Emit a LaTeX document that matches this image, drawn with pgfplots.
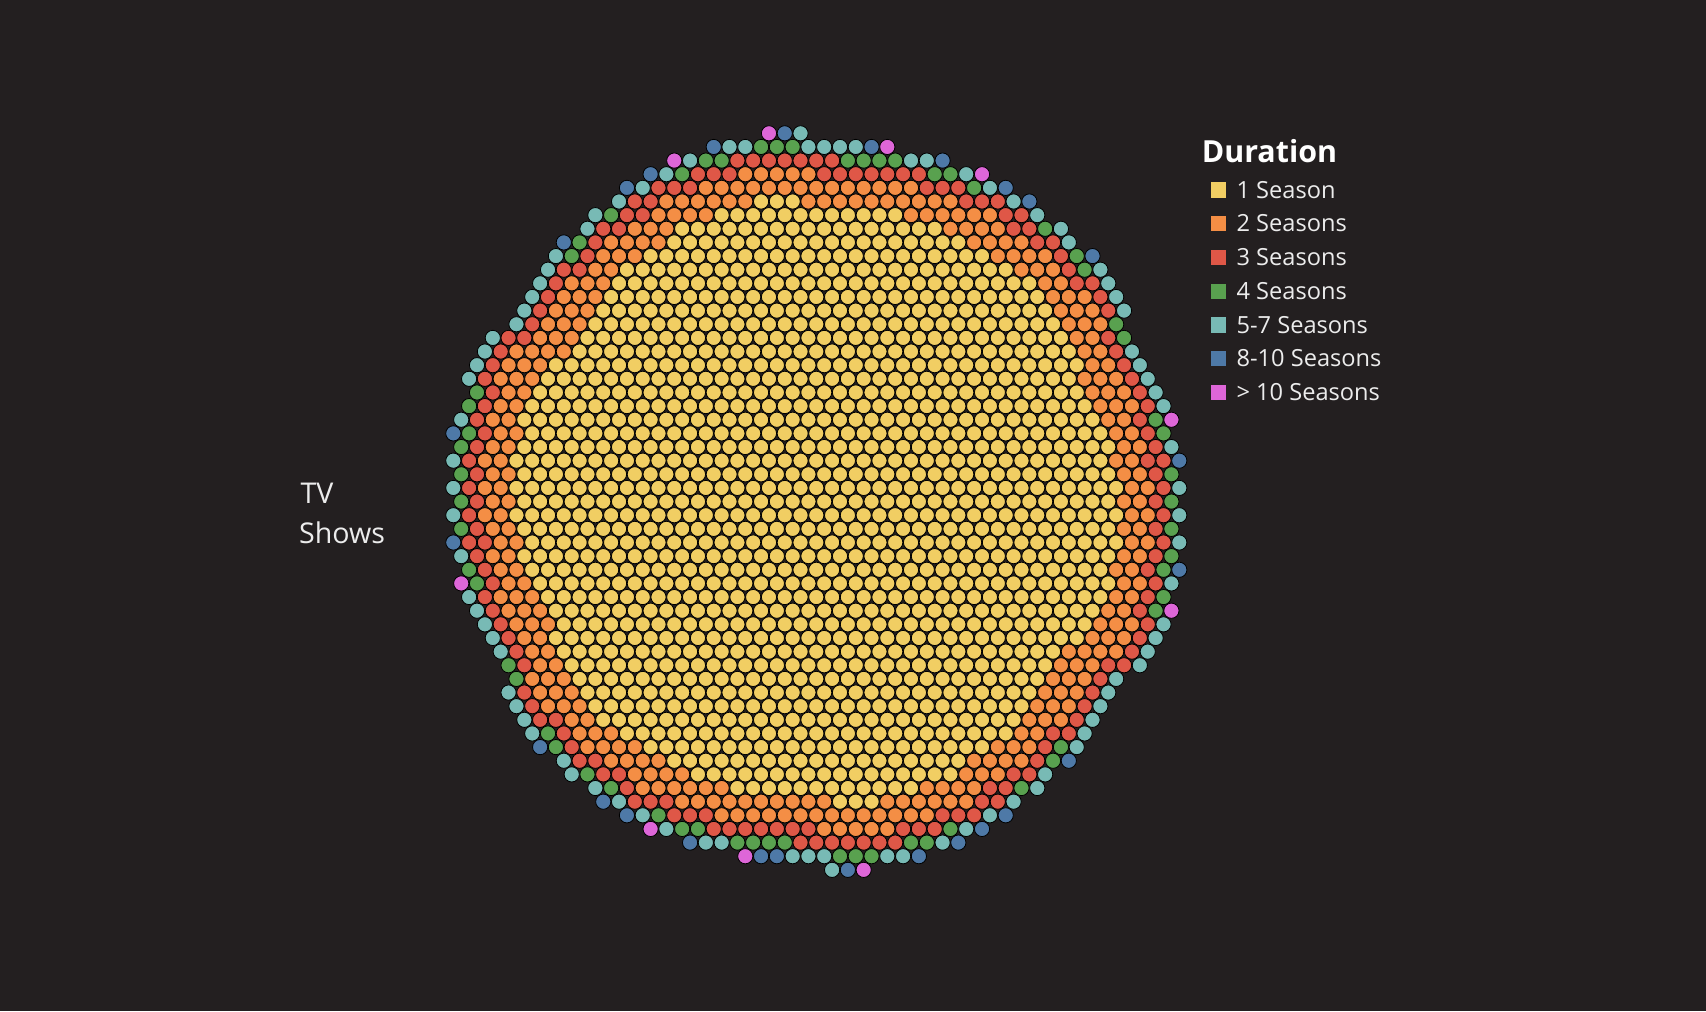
\documentclass[border=0pt]{standalone}
\usepackage{fontspec}
\setmainfont{Open Sans}
\usepackage{pgfplots}
\pgfplotsset{compat=1.18}
\definecolor{bg}{RGB}{35,31,32}
\definecolor{cY}{HTML}{F1CE63}
\definecolor{cO}{HTML}{F48E45}
\definecolor{cR}{HTML}{DF5747}
\definecolor{cG}{HTML}{59A14F}
\definecolor{cT}{HTML}{78BAB5}
\definecolor{cB}{HTML}{4E79A7}
\definecolor{cP}{HTML}{DE66D8}
\definecolor{lgtext}{RGB}{236,236,236}
\pgfplotsset{dot/.style={only marks, mark=*, mark size=3.8pt, mark options={draw=none, fill=#1},
  legend image code/.code={\fill[#1] (0pt,-3.575pt) rectangle (7.15pt,3.575pt);}}}
\begin{document}
\begin{tikzpicture}
\fill[bg] (0,0) rectangle (853pt,505.5pt);
\begin{axis}[at={(0,0)}, anchor=south west, scale only axis, width=853pt, height=505.5pt,
  xmin=-57.45, xmax=158.75, ymin=-9.773, ymax=64.348, y dir=reverse, hide axis, clip=false,
  legend cell align=left,
  legend style={at={(0.70967,0.82028)}, anchor=north west, draw=none, fill=none, inner sep=0pt, outer sep=0pt,
    row sep=8.55pt, font=\fontsize{11.8}{13}\selectfont, text=lgtext,
    nodes={inner sep=0pt, text height=8.3pt, text depth=0pt},
    /tikz/every odd column/.append style={column sep=5.4pt}}]
% 1 Season
\addplot[dot=cY] coordinates {
(39,5) (41,5) (43,5)
(34,6) (36,6) (38,6) (40,6) (42,6) (44,6) (46,6) (48,6) (50,6) (52,6) (54,6) (56,6)
(29,7) (31,7) (33,7) (35,7) (37,7) (39,7) (41,7) (43,7) (45,7) (47,7) (49,7) (51,7) (53,7) (55,7) (57,7) (59,7) (61,7)
(28,8) (30,8) (32,8) (34,8) (36,8) (38,8) (40,8) (42,8) (44,8) (46,8) (48,8) (50,8) (52,8) (54,8) (56,8) (58,8) (60,8) (62,8) (64,8)
(25,9) (27,9) (29,9) (31,9) (33,9) (35,9) (37,9) (39,9) (41,9) (43,9) (45,9) (47,9) (49,9) (51,9) (53,9) (55,9) (57,9) (59,9) (61,9) (63,9) (65,9) (67,9)
(22,10) (24,10) (26,10) (28,10) (30,10) (32,10) (34,10) (36,10) (38,10) (40,10) (42,10) (44,10) (46,10) (48,10) (50,10) (52,10) (54,10) (56,10) (58,10) (60,10) (62,10) (64,10) (66,10) (68,10) (70,10)
(21,11) (23,11) (25,11) (27,11) (29,11) (31,11) (33,11) (35,11) (37,11) (39,11) (41,11) (43,11) (45,11) (47,11) (49,11) (51,11) (53,11) (55,11) (57,11) (59,11) (61,11) (63,11) (65,11) (67,11) (69,11) (71,11) (73,11)
(20,12) (22,12) (24,12) (26,12) (28,12) (30,12) (32,12) (34,12) (36,12) (38,12) (40,12) (42,12) (44,12) (46,12) (48,12) (50,12) (52,12) (54,12) (56,12) (58,12) (60,12) (62,12) (64,12) (66,12) (68,12) (70,12) (72,12) (74,12)
(19,13) (21,13) (23,13) (25,13) (27,13) (29,13) (31,13) (33,13) (35,13) (37,13) (39,13) (41,13) (43,13) (45,13) (47,13) (49,13) (51,13) (53,13) (55,13) (57,13) (59,13) (61,13) (63,13) (65,13) (67,13) (69,13) (71,13) (73,13) (75,13)
(18,14) (20,14) (22,14) (24,14) (26,14) (28,14) (30,14) (32,14) (34,14) (36,14) (38,14) (40,14) (42,14) (44,14) (46,14) (48,14) (50,14) (52,14) (54,14) (56,14) (58,14) (60,14) (62,14) (64,14) (66,14) (68,14) (70,14) (72,14) (74,14) (76,14)
(17,15) (19,15) (21,15) (23,15) (25,15) (27,15) (29,15) (31,15) (33,15) (35,15) (37,15) (39,15) (41,15) (43,15) (45,15) (47,15) (49,15) (51,15) (53,15) (55,15) (57,15) (59,15) (61,15) (63,15) (65,15) (67,15) (69,15) (71,15) (73,15) (75,15) (77,15)
(16,16) (18,16) (20,16) (22,16) (24,16) (26,16) (28,16) (30,16) (32,16) (34,16) (36,16) (38,16) (40,16) (42,16) (44,16) (46,16) (48,16) (50,16) (52,16) (54,16) (56,16) (58,16) (60,16) (62,16) (64,16) (66,16) (68,16) (70,16) (72,16) (74,16) (76,16) (78,16)
(13,17) (15,17) (17,17) (19,17) (21,17) (23,17) (25,17) (27,17) (29,17) (31,17) (33,17) (35,17) (37,17) (39,17) (41,17) (43,17) (45,17) (47,17) (49,17) (51,17) (53,17) (55,17) (57,17) (59,17) (61,17) (63,17) (65,17) (67,17) (69,17) (71,17) (73,17) (75,17) (77,17) (79,17)
(12,18) (14,18) (16,18) (18,18) (20,18) (22,18) (24,18) (26,18) (28,18) (30,18) (32,18) (34,18) (36,18) (38,18) (40,18) (42,18) (44,18) (46,18) (48,18) (50,18) (52,18) (54,18) (56,18) (58,18) (60,18) (62,18) (64,18) (66,18) (68,18) (70,18) (72,18) (74,18) (76,18) (78,18)
(11,19) (13,19) (15,19) (17,19) (19,19) (21,19) (23,19) (25,19) (27,19) (29,19) (31,19) (33,19) (35,19) (37,19) (39,19) (41,19) (43,19) (45,19) (47,19) (49,19) (51,19) (53,19) (55,19) (57,19) (59,19) (61,19) (63,19) (65,19) (67,19) (69,19) (71,19) (73,19) (75,19) (77,19) (79,19)
(10,20) (12,20) (14,20) (16,20) (18,20) (20,20) (22,20) (24,20) (26,20) (28,20) (30,20) (32,20) (34,20) (36,20) (38,20) (40,20) (42,20) (44,20) (46,20) (48,20) (50,20) (52,20) (54,20) (56,20) (58,20) (60,20) (62,20) (64,20) (66,20) (68,20) (70,20) (72,20) (74,20) (76,20) (78,20) (80,20)
(9,21) (11,21) (13,21) (15,21) (17,21) (19,21) (21,21) (23,21) (25,21) (27,21) (29,21) (31,21) (33,21) (35,21) (37,21) (39,21) (41,21) (43,21) (45,21) (47,21) (49,21) (51,21) (53,21) (55,21) (57,21) (59,21) (61,21) (63,21) (65,21) (67,21) (69,21) (71,21) (73,21) (75,21) (77,21) (79,21) (81,21)
(10,22) (12,22) (14,22) (16,22) (18,22) (20,22) (22,22) (24,22) (26,22) (28,22) (30,22) (32,22) (34,22) (36,22) (38,22) (40,22) (42,22) (44,22) (46,22) (48,22) (50,22) (52,22) (54,22) (56,22) (58,22) (60,22) (62,22) (64,22) (66,22) (68,22) (70,22) (72,22) (74,22) (76,22) (78,22) (80,22) (82,22)
(9,23) (11,23) (13,23) (15,23) (17,23) (19,23) (21,23) (23,23) (25,23) (27,23) (29,23) (31,23) (33,23) (35,23) (37,23) (39,23) (41,23) (43,23) (45,23) (47,23) (49,23) (51,23) (53,23) (55,23) (57,23) (59,23) (61,23) (63,23) (65,23) (67,23) (69,23) (71,23) (73,23) (75,23) (77,23) (79,23) (81,23) (83,23)
(8,24) (10,24) (12,24) (14,24) (16,24) (18,24) (20,24) (22,24) (24,24) (26,24) (28,24) (30,24) (32,24) (34,24) (36,24) (38,24) (40,24) (42,24) (44,24) (46,24) (48,24) (50,24) (52,24) (54,24) (56,24) (58,24) (60,24) (62,24) (64,24) (66,24) (68,24) (70,24) (72,24) (74,24) (76,24) (78,24) (80,24) (82,24)
(9,25) (11,25) (13,25) (15,25) (17,25) (19,25) (21,25) (23,25) (25,25) (27,25) (29,25) (31,25) (33,25) (35,25) (37,25) (39,25) (41,25) (43,25) (45,25) (47,25) (49,25) (51,25) (53,25) (55,25) (57,25) (59,25) (61,25) (63,25) (65,25) (67,25) (69,25) (71,25) (73,25) (75,25) (77,25) (79,25) (81,25) (83,25)
(8,26) (10,26) (12,26) (14,26) (16,26) (18,26) (20,26) (22,26) (24,26) (26,26) (28,26) (30,26) (32,26) (34,26) (36,26) (38,26) (40,26) (42,26) (44,26) (46,26) (48,26) (50,26) (52,26) (54,26) (56,26) (58,26) (60,26) (62,26) (64,26) (66,26) (68,26) (70,26) (72,26) (74,26) (76,26) (78,26) (80,26) (82,26) (84,26)
(9,27) (11,27) (13,27) (15,27) (17,27) (19,27) (21,27) (23,27) (25,27) (27,27) (29,27) (31,27) (33,27) (35,27) (37,27) (39,27) (41,27) (43,27) (45,27) (47,27) (49,27) (51,27) (53,27) (55,27) (57,27) (59,27) (61,27) (63,27) (65,27) (67,27) (69,27) (71,27) (73,27) (75,27) (77,27) (79,27) (81,27) (83,27)
(8,28) (10,28) (12,28) (14,28) (16,28) (18,28) (20,28) (22,28) (24,28) (26,28) (28,28) (30,28) (32,28) (34,28) (36,28) (38,28) (40,28) (42,28) (44,28) (46,28) (48,28) (50,28) (52,28) (54,28) (56,28) (58,28) (60,28) (62,28) (64,28) (66,28) (68,28) (70,28) (72,28) (74,28) (76,28) (78,28) (80,28) (82,28) (84,28)
(9,29) (11,29) (13,29) (15,29) (17,29) (19,29) (21,29) (23,29) (25,29) (27,29) (29,29) (31,29) (33,29) (35,29) (37,29) (39,29) (41,29) (43,29) (45,29) (47,29) (49,29) (51,29) (53,29) (55,29) (57,29) (59,29) (61,29) (63,29) (65,29) (67,29) (69,29) (71,29) (73,29) (75,29) (77,29) (79,29) (81,29) (83,29)
(10,30) (12,30) (14,30) (16,30) (18,30) (20,30) (22,30) (24,30) (26,30) (28,30) (30,30) (32,30) (34,30) (36,30) (38,30) (40,30) (42,30) (44,30) (46,30) (48,30) (50,30) (52,30) (54,30) (56,30) (58,30) (60,30) (62,30) (64,30) (66,30) (68,30) (70,30) (72,30) (74,30) (76,30) (78,30) (80,30) (82,30) (84,30)
(9,31) (11,31) (13,31) (15,31) (17,31) (19,31) (21,31) (23,31) (25,31) (27,31) (29,31) (31,31) (33,31) (35,31) (37,31) (39,31) (41,31) (43,31) (45,31) (47,31) (49,31) (51,31) (53,31) (55,31) (57,31) (59,31) (61,31) (63,31) (65,31) (67,31) (69,31) (71,31) (73,31) (75,31) (77,31) (79,31) (81,31) (83,31)
(10,32) (12,32) (14,32) (16,32) (18,32) (20,32) (22,32) (24,32) (26,32) (28,32) (30,32) (32,32) (34,32) (36,32) (38,32) (40,32) (42,32) (44,32) (46,32) (48,32) (50,32) (52,32) (54,32) (56,32) (58,32) (60,32) (62,32) (64,32) (66,32) (68,32) (70,32) (72,32) (74,32) (76,32) (78,32) (80,32) (82,32)
(11,33) (13,33) (15,33) (17,33) (19,33) (21,33) (23,33) (25,33) (27,33) (29,33) (31,33) (33,33) (35,33) (37,33) (39,33) (41,33) (43,33) (45,33) (47,33) (49,33) (51,33) (53,33) (55,33) (57,33) (59,33) (61,33) (63,33) (65,33) (67,33) (69,33) (71,33) (73,33) (75,33) (77,33) (79,33) (81,33) (83,33)
(12,34) (14,34) (16,34) (18,34) (20,34) (22,34) (24,34) (26,34) (28,34) (30,34) (32,34) (34,34) (36,34) (38,34) (40,34) (42,34) (44,34) (46,34) (48,34) (50,34) (52,34) (54,34) (56,34) (58,34) (60,34) (62,34) (64,34) (66,34) (68,34) (70,34) (72,34) (74,34) (76,34) (78,34) (80,34) (82,34)
(13,35) (15,35) (17,35) (19,35) (21,35) (23,35) (25,35) (27,35) (29,35) (31,35) (33,35) (35,35) (37,35) (39,35) (41,35) (43,35) (45,35) (47,35) (49,35) (51,35) (53,35) (55,35) (57,35) (59,35) (61,35) (63,35) (65,35) (67,35) (69,35) (71,35) (73,35) (75,35) (77,35) (79,35) (81,35)
(14,36) (16,36) (18,36) (20,36) (22,36) (24,36) (26,36) (28,36) (30,36) (32,36) (34,36) (36,36) (38,36) (40,36) (42,36) (44,36) (46,36) (48,36) (50,36) (52,36) (54,36) (56,36) (58,36) (60,36) (62,36) (64,36) (66,36) (68,36) (70,36) (72,36) (74,36) (76,36) (78,36) (80,36)
(13,37) (15,37) (17,37) (19,37) (21,37) (23,37) (25,37) (27,37) (29,37) (31,37) (33,37) (35,37) (37,37) (39,37) (41,37) (43,37) (45,37) (47,37) (49,37) (51,37) (53,37) (55,37) (57,37) (59,37) (61,37) (63,37) (65,37) (67,37) (69,37) (71,37) (73,37) (75,37) (77,37) (79,37)
(14,38) (16,38) (18,38) (20,38) (22,38) (24,38) (26,38) (28,38) (30,38) (32,38) (34,38) (36,38) (38,38) (40,38) (42,38) (44,38) (46,38) (48,38) (50,38) (52,38) (54,38) (56,38) (58,38) (60,38) (62,38) (64,38) (66,38) (68,38) (70,38) (72,38) (74,38) (76,38)
(15,39) (17,39) (19,39) (21,39) (23,39) (25,39) (27,39) (29,39) (31,39) (33,39) (35,39) (37,39) (39,39) (41,39) (43,39) (45,39) (47,39) (49,39) (51,39) (53,39) (55,39) (57,39) (59,39) (61,39) (63,39) (65,39) (67,39) (69,39) (71,39) (73,39) (75,39)
(16,40) (18,40) (20,40) (22,40) (24,40) (26,40) (28,40) (30,40) (32,40) (34,40) (36,40) (38,40) (40,40) (42,40) (44,40) (46,40) (48,40) (50,40) (52,40) (54,40) (56,40) (58,40) (60,40) (62,40) (64,40) (66,40) (68,40) (70,40) (72,40) (74,40)
(17,41) (19,41) (21,41) (23,41) (25,41) (27,41) (29,41) (31,41) (33,41) (35,41) (37,41) (39,41) (41,41) (43,41) (45,41) (47,41) (49,41) (51,41) (53,41) (55,41) (57,41) (59,41) (61,41) (63,41) (65,41) (67,41) (69,41) (71,41) (73,41)
(18,42) (20,42) (22,42) (24,42) (26,42) (28,42) (30,42) (32,42) (34,42) (36,42) (38,42) (40,42) (42,42) (44,42) (46,42) (48,42) (50,42) (52,42) (54,42) (56,42) (58,42) (60,42) (62,42) (64,42) (66,42) (68,42) (70,42) (72,42)
(19,43) (21,43) (23,43) (25,43) (27,43) (29,43) (31,43) (33,43) (35,43) (37,43) (39,43) (41,43) (43,43) (45,43) (47,43) (49,43) (51,43) (53,43) (55,43) (57,43) (59,43) (61,43) (63,43) (65,43) (67,43) (69,43) (71,43)
(22,44) (24,44) (26,44) (28,44) (30,44) (32,44) (34,44) (36,44) (38,44) (40,44) (42,44) (44,44) (46,44) (48,44) (50,44) (52,44) (54,44) (56,44) (58,44) (60,44) (62,44) (64,44) (66,44) (68,44) (70,44)
(25,45) (27,45) (29,45) (31,45) (33,45) (35,45) (37,45) (39,45) (41,45) (43,45) (45,45) (47,45) (49,45) (51,45) (53,45) (55,45) (57,45) (59,45) (61,45) (63,45) (65,45) (67,45)
(28,46) (30,46) (32,46) (34,46) (36,46) (38,46) (40,46) (42,46) (44,46) (46,46) (48,46) (50,46) (52,46) (54,46) (56,46) (58,46) (60,46) (62,46) (64,46)
(31,47) (33,47) (35,47) (37,47) (39,47) (41,47) (43,47) (45,47) (47,47) (49,47) (51,47) (53,47) (55,47) (57,47) (59,47) (61,47) (63,47)
(36,48) (38,48) (40,48) (42,48) (44,48) (46,48) (48,48) (50,48) (52,48) (54,48) (56,48) (58,48)
(49,49) (51,49) (53,49)
};
\addlegendentry{1 Season}
% 2 Seasons
\addplot[dot=cO] coordinates {
(37,3) (39,3) (41,3) (43,3) (45,3)
(32,4) (34,4) (36,4) (38,4) (40,4) (42,4) (44,4) (46,4) (48,4) (50,4) (52,4) (54,4) (56,4) (58,4)
(27,5) (29,5) (31,5) (33,5) (35,5) (37,5) (45,5) (47,5) (49,5) (51,5) (53,5) (55,5) (57,5) (59,5) (61,5) (63,5)
(26,6) (28,6) (30,6) (32,6) (58,6) (60,6) (62,6) (64,6) (66,6) (68,6)
(23,7) (25,7) (27,7) (63,7) (65,7) (67,7) (69,7)
(20,8) (22,8) (24,8) (26,8) (66,8) (68,8) (70,8) (72,8)
(19,9) (21,9) (23,9) (69,9) (71,9) (73,9) (75,9)
(18,10) (20,10) (72,10) (74,10) (76,10)
(15,11) (17,11) (19,11) (75,11) (77,11)
(14,12) (16,12) (18,12) (76,12) (78,12) (80,12)
(13,13) (15,13) (17,13) (77,13) (79,13) (81,13)
(12,14) (14,14) (16,14) (78,14) (80,14) (82,14)
(11,15) (13,15) (15,15) (79,15) (81,15)
(8,16) (10,16) (12,16) (14,16) (80,16) (82,16)
(7,17) (9,17) (11,17) (81,17) (83,17)
(6,18) (8,18) (10,18) (80,18) (82,18) (84,18)
(7,19) (9,19) (81,19) (83,19) (85,19)
(6,20) (8,20) (82,20) (84,20) (86,20)
(5,21) (7,21) (83,21) (85,21)
(6,22) (8,22) (84,22) (86,22)
(5,23) (7,23) (85,23) (87,23)
(4,24) (6,24) (84,24) (86,24)
(5,25) (7,25) (85,25) (87,25)
(4,26) (6,26) (86,26) (88,26)
(5,27) (7,27) (85,27) (87,27)
(4,28) (6,28) (86,28) (88,28)
(5,29) (7,29) (85,29) (87,29)
(6,30) (8,30) (86,30) (88,30)
(5,31) (7,31) (85,31) (87,31)
(6,32) (8,32) (84,32) (86,32)
(7,33) (9,33) (85,33) (87,33)
(6,34) (8,34) (10,34) (84,34) (86,34)
(7,35) (9,35) (11,35) (83,35) (85,35)
(8,36) (10,36) (12,36) (82,36) (84,36) (86,36)
(9,37) (11,37) (81,37) (83,37) (85,37)
(10,38) (12,38) (78,38) (80,38) (82,38) (84,38)
(11,39) (13,39) (77,39) (79,39) (81,39)
(10,40) (12,40) (14,40) (76,40) (78,40) (80,40)
(11,41) (13,41) (15,41) (75,41) (77,41) (79,41)
(12,42) (14,42) (16,42) (74,42) (76,42) (78,42)
(15,43) (17,43) (73,43) (75,43) (77,43)
(16,44) (18,44) (20,44) (72,44) (74,44)
(17,45) (19,45) (21,45) (23,45) (69,45) (71,45) (73,45)
(20,46) (22,46) (24,46) (26,46) (66,46) (68,46) (70,46) (72,46)
(23,47) (25,47) (27,47) (29,47) (65,47) (67,47) (69,47)
(24,48) (26,48) (28,48) (30,48) (32,48) (34,48) (60,48) (62,48) (64,48) (66,48)
(29,49) (31,49) (33,49) (35,49) (37,49) (39,49) (41,49) (43,49) (45,49) (47,49) (55,49) (57,49) (59,49) (61,49) (63,49) (65,49)
(34,50) (36,50) (38,50) (40,50) (42,50) (44,50) (46,50) (48,50) (50,50) (52,50) (54,50) (56,50) (58,50) (60,50)
(47,51) (49,51) (51,51) (53,51) (55,51)
};
\addlegendentry{2 Seasons}
% 3 Seasons
\addplot[dot=cR] coordinates {
(36,2) (38,2) (40,2) (42,2) (44,2) (46,2) (48,2)
(31,3) (33,3) (35,3) (47,3) (49,3) (51,3) (53,3) (55,3) (57,3) (59,3)
(26,4) (28,4) (30,4) (60,4) (62,4) (64,4)
(23,5) (25,5) (65,5) (67,5) (69,5)
(22,6) (24,6) (70,6) (72,6)
(19,7) (21,7) (71,7) (73,7)
(18,8) (74,8) (76,8)
(17,9) (77,9)
(14,10) (16,10) (78,10)
(13,11) (79,11) (81,11)
(12,12) (82,12)
(11,13) (83,13)
(10,14)
(7,15) (9,15) (83,15)
(6,16) (84,16)
(5,17) (85,17)
(4,18) (86,18)
(5,19) (87,19)
(4,20) (88,20)
(3,21) (87,21)
(4,22) (88,22)
(3,23) (89,23)
(2,24) (88,24) (90,24)
(3,25) (89,25)
(2,26) (90,26)
(3,27) (89,27)
(2,28) (90,28)
(3,29) (89,29)
(2,30) (4,30) (90,30)
(3,31) (89,31)
(4,32) (88,32)
(5,33) (89,33)
(4,34) (88,34)
(5,35) (87,35)
(6,36) (88,36)
(7,37) (87,37)
(8,38) (86,38)
(9,39) (83,39) (85,39)
(82,40)
(9,41) (81,41)
(10,42) (80,42)
(11,43) (13,43) (79,43)
(14,44) (76,44) (78,44)
(15,45) (75,45)
(16,46) (18,46) (74,46)
(19,47) (21,47) (71,47) (73,47)
(22,48) (68,48) (70,48)
(23,49) (25,49) (27,49) (67,49) (69,49)
(28,50) (30,50) (32,50) (62,50) (64,50) (66,50)
(33,51) (35,51) (37,51) (39,51) (41,51) (43,51) (45,51) (57,51) (59,51) (61,51)
(44,52) (46,52) (48,52) (50,52) (52,52) (54,52) (56,52)
};
\addlegendentry{3 Seasons}
% 4 Seasons
\addplot[dot=cG] coordinates {
(39,1) (41,1) (43,1)
(32,2) (34,2) (50,2) (52,2) (54,2) (56,2)
(29,3) (61,3) (63,3)
(66,4) (20,6) (75,7) (16,8) (15,9) (79,9) (80,10) (84,14) (85,15)
(3,19) (2,20) (89,21) (2,22) (90,22) (1,23) (1,25) (91,25) (1,27) (91,27) (1,29) (91,29) (91,31)
(2,32) (90,32) (3,33) (90,34) (89,35) (7,39) (8,40) (12,44) (13,45) (77,45) (76,46) (17,47)
(20,48) (72,48) (26,50)
(29,51) (31,51) (63,51)
(36,52) (38,52) (40,52) (42,52) (58,52) (60,52)
(49,53) (51,53) (53,53)
};
\addlegendentry{4 Seasons}
% 5-7 Seasons
\addplot[dot=cT] coordinates {
(44,0)
(35,1) (37,1) (45,1) (47,1) (49,1) (51,1)
(30,2) (58,2) (60,2)
(27,3) (65,3) (24,4) (68,4) (21,5) (71,5) (18,6) (74,6) (17,7) (77,7) (78,8) (13,9)
(12,10) (82,10) (11,11) (83,11) (10,12) (84,12) (9,13) (85,13) (8,14) (5,15) (4,16) (86,16)
(3,17) (87,17) (2,18) (88,18) (89,19) (90,20) (1,21) (91,23) (0,24) (0,26) (92,26) (0,28) (92,28)
(92,30) (1,31) (91,33) (2,34) (3,35) (4,36) (90,36) (5,37) (89,37) (6,38) (88,38) (87,39) (84,40)
(7,41) (83,41) (8,42) (82,42) (9,43) (81,43) (10,44) (80,44) (79,45) (14,46) (15,47) (75,47)
(18,48) (74,48) (21,49) (71,49) (24,50) (68,50) (27,51) (65,51)
(32,52) (34,52) (62,52)
(43,53) (45,53) (47,53) (55,53) (57,53)
(48,54)
};
\addlegendentry{5-7 Seasons}
% 8-10 Seasons
\addplot[dot=cB] coordinates {
(42,0) (33,1) (53,1) (62,2) (25,3) (22,4) (70,4) (73,5) (14,8) (81,9)
(0,22) (92,24) (0,30) (92,32)
(11,45) (78,46) (19,49) (22,50) (70,50) (67,51) (30,52) (64,52) (39,53) (41,53) (59,53) (50,54)
};
\addlegendentry{8-10 Seasons}
% > 10 Seasons
\addplot[dot=cP] coordinates {
(40,0) (55,1) (28,2) (67,3) (91,21) (1,33) (91,35) (25,51) (37,53) (52,54)
};
\addlegendentry{> 10 Seasons}
\node[anchor=base west, inner sep=0pt, font=\bfseries\fontsize{15.2}{18}\selectfont, text=white] at (axis cs:94.8,2.16) {Duration};
\node[anchor=base west, inner sep=0pt, font=\fontsize{14.3}{16}\selectfont, text=lgtext] at (axis cs:-19.4,27.13) {TV};
\node[anchor=base west, inner sep=0pt, font=\fontsize{14.3}{16}\selectfont, text=lgtext] at (axis cs:-19.6,30.06) {Shows};
\end{axis}
\end{tikzpicture}
\end{document}
